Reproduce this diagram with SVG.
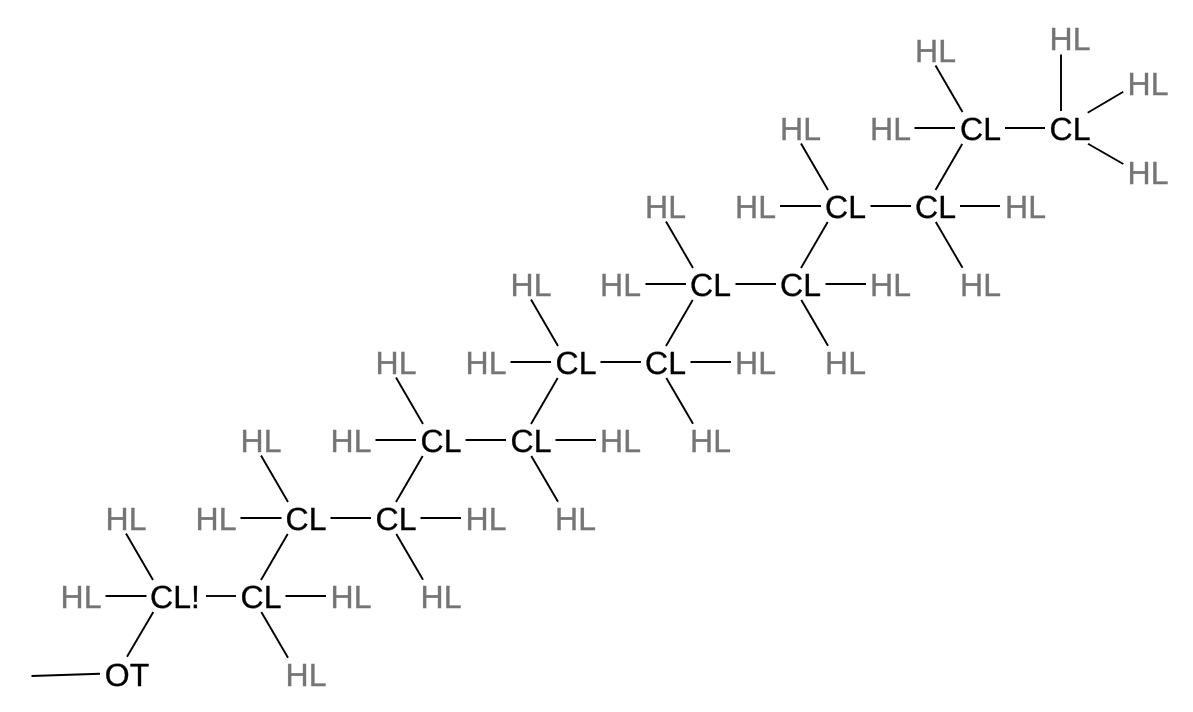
<svg xmlns="http://www.w3.org/2000/svg" width="1193" height="712" viewBox="0 0 1193 712">
<defs><filter id="soft" filterUnits="userSpaceOnUse" x="0" y="0" width="1193" height="712" color-interpolation-filters="sRGB"><feGaussianBlur stdDeviation="0.3"/></filter></defs>
<style>
text{font-family:"Liberation Sans",Arial,sans-serif;font-size:32px;text-anchor:middle;text-rendering:geometricPrecision;stroke-width:.35px}
.c{fill:#000;stroke:#000}
.h{fill:#757575;stroke:#757575}
#connectors line{stroke:#000;stroke-width:1.9;stroke-linecap:butt}
</style>
<rect width="1193" height="712" fill="#fff"/>
<g id="connectors">
<line x1="31.5" y1="676" x2="100" y2="673.7"/>
<line x1="153.3" y1="612" x2="127" y2="656.7"/>
<line x1="105.5" y1="596" x2="146.5" y2="596"/>
<line x1="240.5" y1="518" x2="281.5" y2="518"/>
<line x1="375.5" y1="440" x2="416" y2="440"/>
<line x1="510.5" y1="362" x2="551" y2="362"/>
<line x1="645.5" y1="284" x2="686" y2="284"/>
<line x1="780" y1="206" x2="821" y2="206"/>
<line x1="914.5" y1="128" x2="955" y2="128"/>
<line x1="206" y1="596" x2="236" y2="596"/>
<line x1="330.5" y1="518" x2="371" y2="518"/>
<line x1="465.5" y1="440" x2="506" y2="440"/>
<line x1="600.5" y1="362" x2="641" y2="362"/>
<line x1="735.5" y1="284" x2="776" y2="284"/>
<line x1="870.5" y1="206" x2="911" y2="206"/>
<line x1="1005" y1="128" x2="1045" y2="128"/>
<line x1="285.5" y1="596" x2="326" y2="596"/>
<line x1="420.5" y1="518" x2="461" y2="518"/>
<line x1="555.5" y1="440" x2="596" y2="440"/>
<line x1="690.5" y1="362" x2="731" y2="362"/>
<line x1="825.5" y1="284" x2="866" y2="284"/>
<line x1="960" y1="206" x2="1000" y2="206"/>
<line x1="126" y1="533.5" x2="153" y2="580"/>
<line x1="261" y1="455.5" x2="288" y2="502"/>
<line x1="396" y1="377.5" x2="423" y2="424"/>
<line x1="531" y1="299.5" x2="558" y2="346"/>
<line x1="666" y1="221.5" x2="693" y2="268"/>
<line x1="801" y1="143.5" x2="828" y2="190"/>
<line x1="935.5" y1="65.5" x2="962.5" y2="112"/>
<line x1="261" y1="580" x2="287.7" y2="534"/>
<line x1="396" y1="502" x2="422.7" y2="456"/>
<line x1="531" y1="424" x2="557.7" y2="378"/>
<line x1="666" y1="346" x2="692.7" y2="300"/>
<line x1="801" y1="268" x2="827.7" y2="222"/>
<line x1="935.5" y1="190" x2="962.2" y2="144"/>
<line x1="261.3" y1="612" x2="288" y2="657.7"/>
<line x1="396.3" y1="534" x2="423" y2="579.7"/>
<line x1="531.3" y1="456" x2="558" y2="501.7"/>
<line x1="666.3" y1="378" x2="693" y2="423.7"/>
<line x1="801.3" y1="300" x2="828" y2="345.7"/>
<line x1="935.8" y1="222" x2="962.5" y2="267.7"/>
<line x1="1061" y1="54.5" x2="1061" y2="111"/>
<line x1="1087.7" y1="112.7" x2="1123.3" y2="91.7"/>
<line x1="1088" y1="143.7" x2="1123.3" y2="164"/>
</g>
<g id="nodes" filter="url(#soft)">
<g id="ot"><text class="c" x="127" y="686">OT</text></g>
<g id="c1"><text class="c" x="175" y="608">CL!</text></g>
<g id="c2"><text class="c" x="261" y="608">CL</text></g>
<g id="c3"><text class="c" x="306" y="530">CL</text></g>
<g id="c4"><text class="c" x="396" y="530">CL</text></g>
<g id="c5"><text class="c" x="441" y="452">CL</text></g>
<g id="c6"><text class="c" x="531" y="452">CL</text></g>
<g id="c7"><text class="c" x="576" y="374">CL</text></g>
<g id="c8"><text class="c" x="665.5" y="374">CL</text></g>
<g id="c9"><text class="c" x="710.5" y="296">CL</text></g>
<g id="c10"><text class="c" x="800.5" y="296">CL</text></g>
<g id="c11"><text class="c" x="845.5" y="218">CL</text></g>
<g id="c12"><text class="c" x="935.5" y="218">CL</text></g>
<g id="c13"><text class="c" x="980.5" y="140">CL</text></g>
<g id="c14"><text class="c" x="1070" y="140">CL</text></g>
<g id="h1"><text class="h" x="126" y="530">HL</text></g>
<g id="h2"><text class="h" x="81" y="608">HL</text></g>
<g id="h3"><text class="h" x="351" y="608">HL</text></g>
<g id="h4"><text class="h" x="306" y="686">HL</text></g>
<g id="h5"><text class="h" x="261" y="452">HL</text></g>
<g id="h6"><text class="h" x="216" y="530">HL</text></g>
<g id="h7"><text class="h" x="486" y="530">HL</text></g>
<g id="h8"><text class="h" x="441" y="608">HL</text></g>
<g id="h9"><text class="h" x="396" y="374">HL</text></g>
<g id="h10"><text class="h" x="351" y="452">HL</text></g>
<g id="h11"><text class="h" x="620.5" y="452">HL</text></g>
<g id="h12"><text class="h" x="575.5" y="530">HL</text></g>
<g id="h13"><text class="h" x="531" y="296">HL</text></g>
<g id="h14"><text class="h" x="486" y="374">HL</text></g>
<g id="h15"><text class="h" x="755.5" y="374">HL</text></g>
<g id="h16"><text class="h" x="710.5" y="452">HL</text></g>
<g id="h17"><text class="h" x="665.5" y="218">HL</text></g>
<g id="h18"><text class="h" x="620.5" y="296">HL</text></g>
<g id="h19"><text class="h" x="890.5" y="296">HL</text></g>
<g id="h20"><text class="h" x="845.5" y="374">HL</text></g>
<g id="h21"><text class="h" x="800.5" y="140">HL</text></g>
<g id="h22"><text class="h" x="755.5" y="218">HL</text></g>
<g id="h23"><text class="h" x="1025.5" y="218">HL</text></g>
<g id="h24"><text class="h" x="980.5" y="296">HL</text></g>
<g id="h25"><text class="h" x="935.5" y="62">HL</text></g>
<g id="h26"><text class="h" x="890.5" y="140">HL</text></g>
<g id="h27"><text class="h" x="1070" y="50">HL</text></g>
<g id="h28"><text class="h" x="1148" y="95">HL</text></g>
<g id="h29"><text class="h" x="1148" y="184">HL</text></g>
</g>
</svg>
